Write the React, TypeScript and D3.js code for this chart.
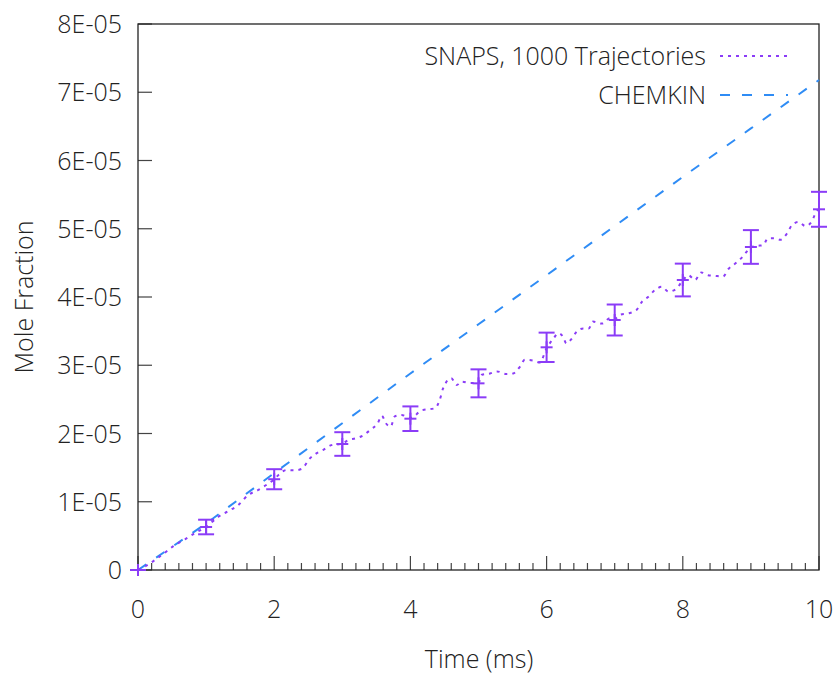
import React from "react";
import * as d3 from "d3";

const snapsTime = [0, 0.1, 0.35, 0.52, 0.69, 0.85, 1.0, 1.18, 1.32, 1.47, 1.62, 1.76, 1.89, 2.0, 2.06, 2.18, 2.3, 2.4, 2.53, 2.62, 2.72, 2.84, 3.0, 3.08, 3.2, 3.32, 3.42, 3.52, 3.58, 3.64, 3.71, 3.77, 3.87, 4.0, 4.17, 4.36, 4.43, 4.48, 4.6, 4.68, 4.75, 4.87, 5.0, 5.05, 5.17, 5.27, 5.41, 5.51, 5.61, 5.68, 5.8, 5.9, 6.0, 6.1, 6.17, 6.24, 6.29, 6.37, 6.44, 6.54, 6.62, 6.68, 6.81, 6.93, 7.0, 7.08, 7.2, 7.32, 7.4, 7.49, 7.59, 7.69, 7.79, 7.89, 8.0, 8.08, 8.18, 8.27, 8.37, 8.47, 8.59, 8.67, 8.77, 8.86, 8.96, 9.0, 9.1, 9.18, 9.25, 9.35, 9.43, 9.53, 9.6, 9.7, 9.8, 9.89, 9.96, 10.0];
const snapsValue = [0, 0.05, 0.22, 0.35, 0.45, 0.55, 0.63, 0.78, 0.86, 0.95, 1.1, 1.17, 1.25, 1.33, 1.39, 1.465, 1.46, 1.48, 1.64, 1.71, 1.76, 1.83, 1.85, 1.9, 1.93, 1.98, 2.06, 2.15, 2.26, 2.15, 2.1, 2.25, 2.27, 2.23, 2.34, 2.37, 2.49, 2.66, 2.81, 2.71, 2.76, 2.74, 2.74, 2.86, 2.88, 2.91, 2.87, 2.88, 2.98, 3.08, 3.07, 3.04, 3.25, 3.39, 3.47, 3.42, 3.32, 3.39, 3.49, 3.54, 3.54, 3.64, 3.61, 3.69, 3.68, 3.74, 3.76, 3.81, 3.93, 4.0, 4.1, 4.15, 4.08, 4.11, 4.24, 4.32, 4.25, 4.36, 4.32, 4.31, 4.3, 4.41, 4.49, 4.57, 4.69, 4.73, 4.75, 4.76, 4.86, 4.86, 4.84, 4.93, 5.05, 5.1, 5.04, 5.1, 5.25, 5.29];

const errTime = [0, 1, 2, 3, 4, 5, 6, 7, 8, 9, 10];
const errMean = [0, 0.63, 1.33, 1.846, 2.217, 2.735, 3.263, 3.663, 4.249, 4.733, 5.285];
const errHalf = [0, 0.107, 0.147, 0.173, 0.18, 0.205, 0.215, 0.227, 0.24, 0.247, 0.256];

const chemTime = [0, 1, 2, 3, 4, 5, 6, 7, 8, 9, 10];
const chemValue = [0, 0.68, 1.42, 2.15, 2.88, 3.6, 4.32, 5.04, 5.76, 6.47, 7.18];

const yTickValues = [0, 1, 2, 3, 4, 5, 6, 7, 8];
const yTickLabels = ["0", "1E-05", "2E-05", "3E-05", "4E-05", "5E-05", "6E-05", "7E-05", "8E-05"];
const xTickValues = [0, 2, 4, 6, 8, 10];
const xTickLabels = ["0", "2", "4", "6", "8", "10"];

const legendLabels = ["SNAPS, 1000 Trajectories", "CHEMKIN"];

const PURPLE = "#8b3cf7";
const BLUE = "#2f8cf5";
const FONT = "'Open Sans', 'Noto Sans', sans-serif";

export default function App() {
  const W = 838, H = 679;
  const L = 138, R = 819, T = 24, B = 570;
  const x = d3.scaleLinear().domain([0, 10]).range([L, R]);
  const y = d3.scaleLinear().domain([0, 8]).range([B, T]);

  const snapsLine = d3.line<number>()
    .x((_, i) => x(snapsTime[i]))
    .y((d) => y(d))
    .curve(d3.curveMonotoneX)(snapsValue) as string;
  const chemLine = d3.line<number>()
    .x((_, i) => x(chemTime[i]))
    .y((d) => y(d))(chemValue) as string;

  const minorTicks = d3.range(0, 51).map((i) => i * 0.2).filter((v) => Math.abs(v / 2 - Math.round(v / 2)) > 1e-6);

  const textStyle: React.CSSProperties = { fontFamily: FONT, fontWeight: 300, fontSize: 25, fill: "#222" };

  return (
    <svg width={W} height={H} style={{ position: "absolute", left: 0, top: 0 }}>
      <rect x={0} y={0} width={W} height={H} fill="#fff" />
      {yTickValues.map((v) => (
        <line key={"yt" + v} x1={L} x2={L + 14} y1={y(v)} y2={y(v)} stroke="#444" strokeWidth={1.2} />
      ))}
      {xTickValues.map((v) => (
        <line key={"xt" + v} x1={x(v)} x2={x(v)} y1={B} y2={B - 14} stroke="#444" strokeWidth={1.2} />
      ))}
      {minorTicks.map((v) => (
        <line key={"xm" + v} x1={x(v)} x2={x(v)} y1={B} y2={B - 7} stroke="#444" strokeWidth={1.2} />
      ))}
      <rect x={L} y={T} width={R - L} height={B - T} fill="none" stroke="#222" strokeWidth={1.3} />

      <path d={chemLine} fill="none" stroke={BLUE} strokeWidth={2} strokeDasharray="10,12" />
      <path d={snapsLine} fill="none" stroke={PURPLE} strokeWidth={2} strokeDasharray="3,5" />
      {errTime.map((t, i) => {
        const cx = x(t);
        const lo = y(errMean[i] - errHalf[i]);
        const hi = y(errMean[i] + errHalf[i]);
        const cy = y(errMean[i]);
        return (
          <g key={"eb" + i} stroke={PURPLE} strokeWidth={2}>
            <line x1={cx} x2={cx} y1={lo} y2={hi} />
            <line x1={cx - 8} x2={cx + 8} y1={lo} y2={lo} />
            <line x1={cx - 8} x2={cx + 8} y1={hi} y2={hi} />
            <line x1={cx - 6} x2={cx + 6} y1={cy} y2={cy} />
            <line x1={cx} x2={cx} y1={cy - 6} y2={cy + 6} />
          </g>
        );
      })}

      {yTickValues.map((v, i) => (
        <text key={"yl" + v} x={122} y={y(v)} dy="0.36em" textAnchor="end" style={textStyle}>{yTickLabels[i]}</text>
      ))}
      {xTickValues.map((v, i) => (
        <text key={"xl" + v} x={x(v)} y={618} textAnchor="middle" style={textStyle}>{xTickLabels[i]}</text>
      ))}
      <text x={479} y={668} textAnchor="middle" style={textStyle}>Time (ms)</text>
      <text transform="translate(33,297) rotate(-90)" textAnchor="middle" style={textStyle}>Mole Fraction</text>

      <text x={706} y={56} dy="0.36em" textAnchor="end" style={textStyle}>{legendLabels[0]}</text>
      <line x1={720} x2={788} y1={56} y2={56} stroke={PURPLE} strokeWidth={2} strokeDasharray="3,5" />
      <text x={706} y={95} dy="0.36em" textAnchor="end" style={textStyle}>{legendLabels[1]}</text>
      <line x1={720} x2={788} y1={95} y2={95} stroke={BLUE} strokeWidth={2} strokeDasharray="10,12" />
    </svg>
  );
}
